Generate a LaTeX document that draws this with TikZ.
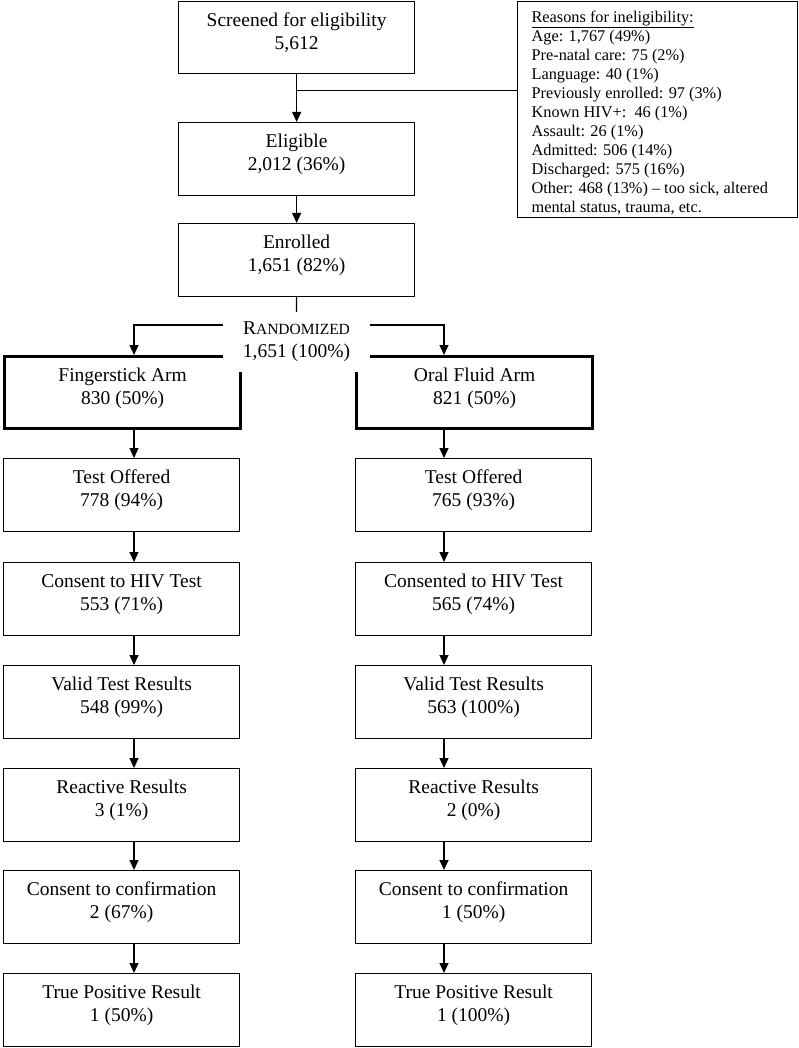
\documentclass[tikz,border=0pt]{standalone}
\usepackage{fontspec}
\setmainfont{Liberation Serif}
\usetikzlibrary{arrows.meta}
\newcommand{\bx}[3][73]{\parbox[c][#1pt][t]{236pt}{\centering\fontsize{19.5}{23}\selectfont\rule{0pt}{25pt}#2\\#3}}
\begin{document}
\begin{tikzpicture}[x=1pt,y=-1pt,
  box/.style={draw, line width=1.2pt, inner sep=0pt, anchor=north west},
  armbox/.style={box, line width=3.3pt},
  arr/.style={line width=1.2pt, -{Triangle[width=9pt,length=10pt]}},
  ln/.style={line width=1.2pt}]
\useasboundingbox (0,0) rectangle (798,1048);
% top column
\node[box] (scr) at (178,1) {\bx[72]{Screened for eligibility}{5,612}};
\node[box] (elig) at (178,122) {\bx{Eligible}{2,012 (36\%)}};
\node[box] (enr) at (178,223) {\bx{Enrolled}{1,651 (82\%)}};
% reasons
\node[box, inner xsep=14pt] (rea) at (517,1) {\parbox[c][216pt][t]{252pt}{\raggedright\fontsize{16.3}{19}\selectfont\rule{0pt}{21pt}\underline{Reasons for ineligibility:}\\
Age: 1,767 (49\%)\\
Pre-natal care: 75 (2\%)\\
Language: 40 (1\%)\\
Previously enrolled: 97 (3\%)\\
Known HIV+:\ \ 46 (1\%)\\
Assault: 26 (1\%)\\
Admitted: 506 (14\%)\\
Discharged: 575 (16\%)\\
Other: 468 (13\%) -- too sick, altered\\
mental status, trauma, etc.}};
% arms
\node[armbox] (fs) at (3,355) {\bx[72]{Fingerstick Arm}{830 (50\%)}};
\node[armbox] (of) at (355,355) {\bx[72]{Oral Fluid Arm}{821 (50\%)}};
% randomized
\node[fill=white, minimum width=147pt, minimum height=60pt, inner sep=0pt, align=center,
  font=\fontsize{19.5}{23}\selectfont] (rand) at (296.5,342)
  {R{\fontsize{15.5}{23}\selectfont ANDOMIZED}\\1,651 (100\%)};
% columns
\node[box] (t1L) at (3,458) {\bx{Test Offered}{778 (94\%)}};
\node[box] (t2L) at (3,562) {\bx{Consent to HIV Test}{553 (71\%)}};
\node[box] (t3L) at (3,665) {\bx{Valid Test Results}{548 (99\%)}};
\node[box] (t4L) at (3,768) {\bx{Reactive Results}{3 (1\%)}};
\node[box] (t5L) at (3,870) {\bx{Consent to confirmation}{2 (67\%)}};
\node[box] (t6L) at (3,973) {\bx{True Positive Result}{1 (50\%)}};
\node[box] (t1R) at (355,458) {\bx{Test Offered}{765 (93\%)}};
\node[box] (t2R) at (355,562) {\bx{Consented to HIV Test}{565 (74\%)}};
\node[box] (t3R) at (355,665) {\bx{Valid Test Results}{563 (100\%)}};
\node[box] (t4R) at (355,768) {\bx{Reactive Results}{2 (0\%)}};
\node[box] (t5R) at (355,870) {\bx{Consent to confirmation}{1 (50\%)}};
\node[box] (t6R) at (355,973) {\bx{True Positive Result}{1 (100\%)}};
% connectors
\coordinate (cL) at (134,0);
\coordinate (cR) at (444,0);
\draw[arr] (scr.south) -- (elig.north);
\path (scr.south) ++(0,16) coordinate (br);
\draw[ln] (br) -- (br -| rea.west);
\draw[arr] (elig.south) -- (enr.north);
\draw[ln] (enr.south) -- (rand.north);
\draw[arr] ([yshift=17pt]rand.west) -| (fs.north -| cL);
\draw[arr] ([yshift=17pt]rand.east) -| (of.north -| cR);
\draw[arr] (fs.south -| cL) -- (t1L.north -| cL);
\draw[arr] (of.south -| cR) -- (t1R.north -| cR);
\foreach \a/\b in {1/2,2/3,3/4,4/5,5/6}{
  \draw[arr] (t\a L.south -| cL) -- (t\b L.north -| cL);
  \draw[arr] (t\a R.south -| cR) -- (t\b R.north -| cR);
}
\end{tikzpicture}
\end{document}
